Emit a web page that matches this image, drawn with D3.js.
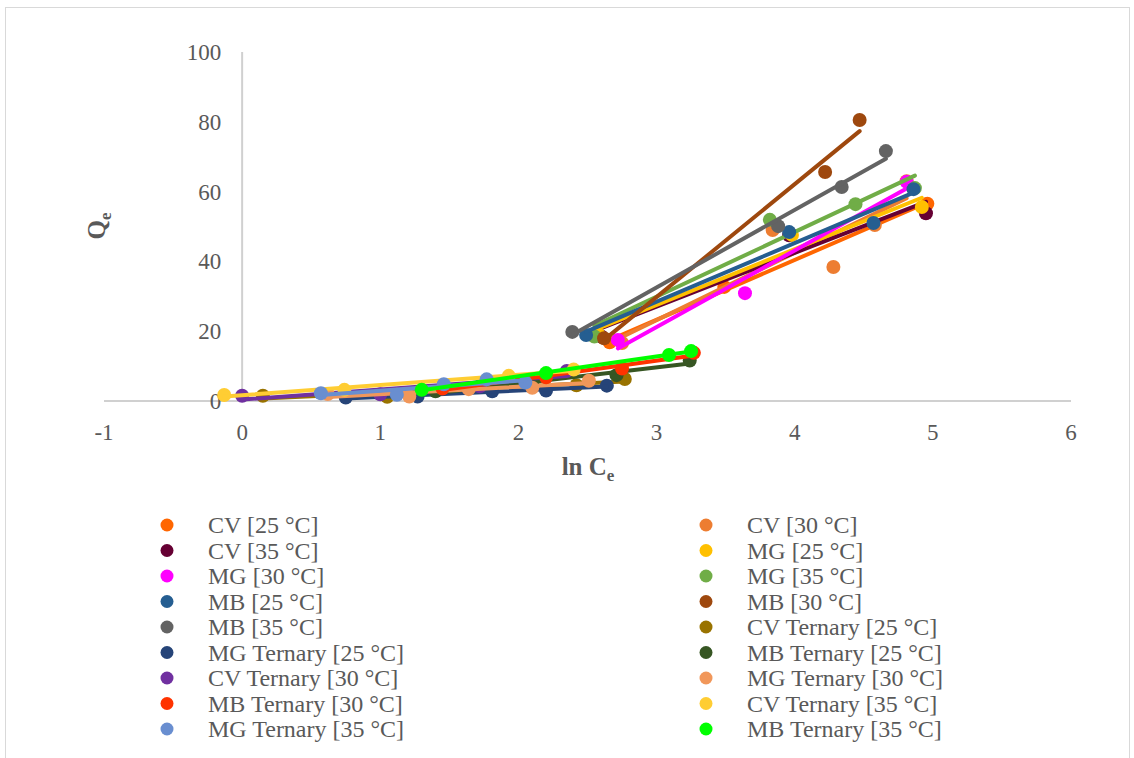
<!DOCTYPE html>
<html>
<head>
<meta charset="utf-8">
<script src="https://cdn.jsdelivr.net/npm/d3@7"></script>
<style>
  body { margin: 0; background: #fff; }
  svg { display: block; }
  text { font-family: "Liberation Serif", "Times New Roman", serif; fill: #595959; }
</style>
</head>
<body>
<svg id="chart" width="1134" height="758"></svg>
<script>
// Adsorption isotherm data: ln Ce versus Qe, one entry per series
const seriesNames = [
  "CV [25 °C]", "CV [30 °C]", "CV [35 °C]", "MG [25 °C]", "MG [30 °C]", "MG [35 °C]",
  "MB [25 °C]", "MB [30 °C]", "MB [35 °C]", "CV Ternary [25 °C]", "MG Ternary [25 °C]",
  "MB Ternary [25 °C]", "CV Ternary [30 °C]", "MG Ternary [30 °C]", "MB Ternary [30 °C]",
  "CV Ternary [35 °C]", "MG Ternary [35 °C]", "MB Ternary [35 °C]"
];
const seriesColors = [
  "#FF6600", "#ED7D31", "#660033", "#FFC000", "#FF00FF", "#70AD47",
  "#255E91", "#9E480E", "#636363", "#997300", "#264478",
  "#375623", "#7030A0", "#F1975A", "#FF3300",
  "#FFCD33", "#698ED0", "#00FF00"
];
const lnCe = [
  [2.66, 3.49, 4.96],
  [2.75, 3.84, 4.28, 4.58, 4.81],
  [2.60, 3.96, 4.95],
  [2.58, 3.98, 4.92],
  [2.72, 3.64, 4.81],
  [2.55, 3.82, 4.44, 4.87],
  [2.49, 3.96, 4.57, 4.86],
  [2.62, 4.22, 4.47],
  [2.39, 3.88, 4.34, 4.66],
  [0.15, 1.05, 2.42, 2.77],
  [0.75, 1.27, 1.81, 2.20, 2.64],
  [1.40, 2.10, 2.71, 3.24],
  [0.00, 1.00, 1.72, 2.35],
  [0.62, 1.21, 1.64, 2.10, 2.51],
  [1.45, 2.20, 2.75, 3.27],
  [-0.13, 0.74, 1.93, 2.40],
  [0.57, 1.12, 1.46, 1.77, 2.05],
  [1.30, 2.20, 3.09, 3.25]
];
const qe = [
  [16.8, 32.7, 56.5],
  [16.6, 49.0, 38.4, 50.4, 63.0],
  [18.5, 47.5, 53.8],
  [19.0, 47.6, 55.6],
  [17.5, 30.9, 62.8],
  [18.5, 51.9, 56.4, 61.0],
  [18.9, 48.4, 51.0, 60.7],
  [18.0, 65.6, 80.5],
  [19.8, 50.1, 61.3, 71.6],
  [1.5, 1.2, 4.5, 6.3],
  [1.0, 1.3, 2.8, 3.0, 4.4],
  [2.8, 5.0, 7.4, 11.6],
  [1.5, 1.9, 4.2, 8.6],
  [2.0, 1.3, 3.4, 3.8, 5.8],
  [3.6, 6.8, 9.3, 13.8],
  [1.7, 3.2, 7.2, 9.0],
  [2.2, 1.8, 4.8, 6.2, 5.3],
  [3.2, 8.0, 13.2, 14.3]
];
const xTicks = [-1, 0, 1, 2, 3, 4, 5, 6];
const yTicks = [0, 20, 40, 60, 80, 100];

const svg = d3.select("#chart");
const x = d3.scaleLinear().domain([-1, 6]).range([104, 1071]);
const y = d3.scaleLinear().domain([0, 100]).range([401, 52]);

// chart frame
svg.append("rect").attr("x", 5.5).attr("y", 7.5).attr("width", 1124).attr("height", 800)
  .attr("fill", "none").attr("stroke", "#D9D9D9").attr("stroke-width", 1);

// axes
svg.append("line").attr("x1", x(0)).attr("x2", x(0)).attr("y1", y(100)).attr("y2", y(0))
  .attr("stroke", "#D0D0D0").attr("stroke-width", 2);
svg.append("line").attr("x1", x(-1)).attr("x2", x(6)).attr("y1", y(0)).attr("y2", y(0))
  .attr("stroke", "#D0D0D0").attr("stroke-width", 2);

svg.append("g").selectAll("text").data(yTicks).join("text")
  .attr("x", x(0) - 21).attr("y", d => y(d)).attr("dy", "0.35em")
  .attr("text-anchor", "end").attr("font-size", 23).text(d => d);

svg.append("g").selectAll("text").data(xTicks).join("text")
  .attr("x", d => x(d)).attr("y", 432).attr("dy", "0.35em")
  .attr("text-anchor", "middle").attr("font-size", 23).text(d => d);

// axis titles
const xt = svg.append("text").attr("x", 588).attr("y", 475).attr("text-anchor", "middle")
  .attr("font-size", 25).attr("font-weight", "bold");
xt.append("tspan").text("ln C");
xt.append("tspan").attr("font-size", 17).attr("dy", 6).text("e");

const yt = svg.append("text").attr("transform", "translate(105,226) rotate(-90)")
  .attr("text-anchor", "middle").attr("font-size", 25).attr("font-weight", "bold");
yt.append("tspan").text("Q");
yt.append("tspan").attr("font-size", 17).attr("dy", 6).text("e");

// least-squares trendline over each series' range
function fit(xs, ys) {
  const mx = d3.mean(xs), my = d3.mean(ys);
  const sxy = d3.sum(xs, (v, i) => (v - mx) * (ys[i] - my));
  const sxx = d3.sum(xs, v => (v - mx) * (v - mx));
  const b = sxy / sxx;
  return { b, a: my - b * mx };
}

const plot = svg.append("g");
seriesNames.forEach((name, i) => {
  const pts = lnCe[i].map((v, j) => [v, qe[i][j]]);
  const g = plot.append("g");
  g.selectAll("circle").data(pts).join("circle")
    .attr("cx", d => x(d[0])).attr("cy", d => y(d[1])).attr("r", 7)
    .attr("fill", seriesColors[i]);
  const f = fit(lnCe[i], qe[i]);
  const [x0, x1] = d3.extent(lnCe[i]);
  g.append("line")
    .attr("x1", x(x0)).attr("y1", y(f.a + f.b * x0))
    .attr("x2", x(x1)).attr("y2", y(f.a + f.b * x1))
    .attr("stroke", seriesColors[i]).attr("stroke-width", 4).attr("stroke-linecap", "round");
});

// legend, two columns
const legend = svg.append("g");
seriesNames.forEach((name, i) => {
  const col = i % 2, row = Math.floor(i / 2);
  const cx = col === 0 ? 167 : 706;
  const cy = 525 + row * 25.5;
  legend.append("circle").attr("cx", cx).attr("cy", cy).attr("r", 6.5).attr("fill", seriesColors[i]);
  legend.append("text").attr("x", cx + 41).attr("y", cy).attr("dy", "0.35em")
    .attr("font-size", 24).text(name);
});
</script>
</body>
</html>
